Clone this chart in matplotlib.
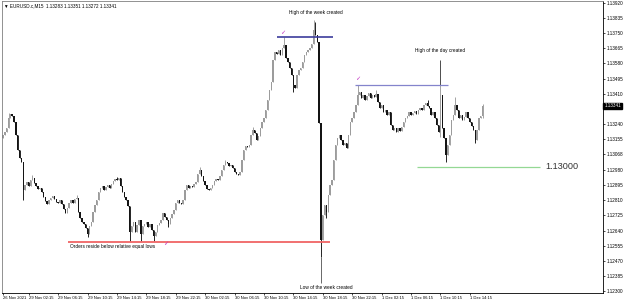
import matplotlib
matplotlib.use('Agg')
import matplotlib.pyplot as plt
import matplotlib.transforms as mtransforms
import numpy as np

plt.rcParams['font.family'] = ['Liberation Sans', 'DejaVu Sans']

# EURUSD.c M15 closes (bar by bar, left to right)
closes = [
    1.13177, 1.13194, 1.13217, 1.13273, 1.13296, 1.13284, 1.13251, 1.13177, 1.13093, 1.13048,
    1.13026, 1.12868, 1.12896, 1.12913, 1.12891, 1.12925, 1.12936, 1.12908, 1.12891, 1.12874,
    1.12879, 1.12857, 1.12829, 1.12806, 1.12789, 1.12812, 1.12823, 1.12834, 1.12818, 1.12801,
    1.12795, 1.12812, 1.12789, 1.12761, 1.12739, 1.12767, 1.12795, 1.12812, 1.12795, 1.12818,
    1.12823, 1.12744, 1.12711, 1.12688, 1.12677, 1.12654, 1.12621, 1.12666, 1.12688, 1.12744,
    1.12784, 1.12812, 1.12857, 1.12879, 1.12891, 1.12868, 1.12885, 1.12896, 1.12879, 1.12902,
    1.12919, 1.12930, 1.12925, 1.12936, 1.12891, 1.12857, 1.12829, 1.12812, 1.12778, 1.12632,
    1.12666, 1.12688, 1.12632, 1.12671, 1.12699, 1.12621, 1.12666, 1.12677, 1.12688, 1.12660,
    1.12677, 1.12643, 1.12609, 1.12632, 1.12671, 1.12682, 1.12699, 1.12739, 1.12716, 1.12699,
    1.12677, 1.12711, 1.12733, 1.12756, 1.12795, 1.12812, 1.12795, 1.12789, 1.12812, 1.12868,
    1.12896, 1.12879, 1.12891, 1.12885, 1.12902, 1.12913, 1.12958, 1.12981, 1.12947, 1.12919,
    1.12896, 1.12874, 1.12868, 1.12879, 1.12896, 1.12919, 1.12930, 1.12925, 1.12947, 1.12981,
    1.13009, 1.13026, 1.13020, 1.13003, 1.13009, 1.12992, 1.12970, 1.12958, 1.12953, 1.12970,
    1.13037, 1.13093, 1.13116, 1.13110, 1.13121, 1.13177, 1.13206, 1.13189, 1.13149, 1.13172,
    1.13217, 1.13251, 1.13273, 1.13318, 1.13374, 1.13431, 1.13476, 1.13599, 1.13644, 1.13633,
    1.13656, 1.13628, 1.13667, 1.13684, 1.13611, 1.13588, 1.13554, 1.13515, 1.13459, 1.13442,
    1.13515, 1.13543, 1.13554, 1.13588, 1.13628, 1.13644, 1.13656, 1.13667, 1.13689, 1.13768,
    1.13740, 1.13701, 1.13245, 1.12587, 1.12728, 1.12784, 1.12744, 1.12840, 1.12896, 1.12925,
    1.13037, 1.13121, 1.13161, 1.13177, 1.13149, 1.13121, 1.13132, 1.13104, 1.13177, 1.13251,
    1.13273, 1.13307, 1.13346, 1.13403, 1.13419, 1.13386, 1.13403, 1.13374, 1.13397, 1.13414,
    1.13386, 1.13403, 1.13391, 1.13408, 1.13363, 1.13329, 1.13346, 1.13307, 1.13318, 1.13290,
    1.13307, 1.13234, 1.13206, 1.13217, 1.13194, 1.13217, 1.13200, 1.13223, 1.13251, 1.13273,
    1.13284, 1.13307, 1.13290, 1.13301, 1.13313, 1.13296, 1.13318, 1.13329, 1.13318, 1.13346,
    1.13358, 1.13341, 1.13329, 1.13290, 1.13307, 1.13273, 1.13234, 1.13194, 1.13403, 1.13217,
    1.13161, 1.13065, 1.13121, 1.13177, 1.13262, 1.13290, 1.13346, 1.13318, 1.13273, 1.13290,
    1.13262, 1.13279, 1.13307, 1.13273, 1.13251, 1.13228, 1.13206, 1.13149, 1.13206, 1.13273,
    1.13283, 1.13341,
]
first_open = 1.13160

# bars whose wicks stick out past their bodies
wick_highs = {3: 1.13301, 16: 1.12953, 40: 1.12840, 62: 1.12941, 107: 1.12998,
              121: 1.13037, 136: 1.13223, 153: 1.13729, 169: 1.13824, 170: 1.13813,
              193: 1.13459, 203: 1.13431, 231: 1.13374, 238: 1.13459, 246: 1.13391,
              261: 1.13351}
wick_lows = {11: 1.12812, 46: 1.12604, 69: 1.12582, 75: 1.12582, 82: 1.12582,
             90: 1.12660, 158: 1.13419, 173: 1.12491, 176: 1.12711, 238: 1.13166,
             241: 1.13026, 257: 1.13132, 261: 1.13272}

last_price = 1.13341
equal_lows = 1.12577
week_high = 1.13730
day_high = 1.13459
level_113 = 1.13000

y_ticks = [1.13920, 1.13835, 1.13750, 1.13665, 1.13580, 1.13495, 1.13410, 1.13325,
           1.13240, 1.13155, 1.13068, 1.12980, 1.12895, 1.12810, 1.12725, 1.12640,
           1.12555, 1.12470, 1.12385, 1.12300]
x_tick_labels = ['26 Nov 2021', '29 Nov 02:15', '29 Nov 06:15', '29 Nov 10:15', '29 Nov 14:15',
                 '29 Nov 18:15', '29 Nov 22:15', '30 Nov 02:15', '30 Nov 06:15', '30 Nov 10:15',
                 '30 Nov 14:15', '30 Nov 18:15', '30 Nov 22:15', '1 Dec 02:15', '1 Dec 06:15',
                 '1 Dec 10:15', '1 Dec 14:15']
x_tick_bars = [0, 14, 30, 46, 62, 78, 94, 110, 126, 142, 158, 174, 190, 206, 222, 238, 254]

closes = np.array(closes)
opens = np.concatenate([[first_open], closes[:-1]])
highs = np.maximum(opens, closes)
lows = np.minimum(opens, closes)
for i, v in wick_highs.items():
    highs[i] = max(highs[i], v)
for i, v in wick_lows.items():
    lows[i] = min(lows[i], v)
idx = np.arange(len(closes))
up = closes >= opens
body_bottom = np.minimum(opens, closes)
body = np.maximum(np.abs(closes - opens), 0.00002)

bull = '#9c9c9c'
bear = '#141414'

fig = plt.figure(figsize=(6.25, 3.03), dpi=100)
ax = fig.add_axes([0.0032, 0.0330, 0.9616, 0.9637])

ax.vlines(idx[up], lows[up], highs[up], color=bull, lw=0.65)
ax.vlines(idx[~up], lows[~up], highs[~up], color=bear, lw=0.65)
ax.bar(idx[up], body[up], bottom=body_bottom[up], width=0.75, color=bull, linewidth=0)
ax.bar(idx[~up], body[~up], bottom=body_bottom[~up], width=0.75, color=bear, linewidth=0)

# drawn levels
ax.hlines(equal_lows, 35.4, 178, color='#f06464', lw=1.3, zorder=3)
ax.hlines(week_high, 149, 179.5, color='#3c3c9c', lw=1.2, zorder=3)
ax.hlines(day_high, 191.6, 242, color='#8484cc', lw=0.9, zorder=3)
ax.hlines(level_113, 225.3, 292.2, color='#94d894', lw=0.9, zorder=3)
ax.text(295, level_113, '1.13000', fontsize=6.6, color='#333333', va='center', ha='left')

# notes
ax.text(170, 1.13869, 'High of the week created', fontsize=3.4, ha='center', va='center')
ax.text(238, 1.13655, 'High of the day created', fontsize=3.4, ha='center', va='center')
ax.vlines(238, 1.13459, 1.13599, color='#303030', lw=0.6)
ax.text(176, 1.12322, 'Low of the week created', fontsize=3.4, ha='center', va='center')
ax.vlines(173, 1.12345, 1.12491, color='#505050', lw=0.6)
ax.text(36.5, 1.12553, 'Orders reside below relative equal lows', fontsize=3.4,
        ha='left', va='center')
for xi, yi in [(88.7, 1.12564), (152.4, 1.13751), (193.2, 1.13492)]:
    ax.text(xi, yi, '\u2713', fontsize=4.5, color='#c030c0', ha='center', va='center')

ax.text(0.004, 0.985, '\u25bc EURUSD.c,M15  1.13283 1.13351 1.13272 1.13341',
        transform=ax.transAxes, fontsize=3.3, va='center', ha='left')

ax.set_xlim(-0.54, 326.5)
ax.set_ylim(1.12289, 1.13931)

ax.yaxis.tick_right()
ax.set_yticks(y_ticks)
# the 1.13325 label sits under the current-price marker
ax.set_yticklabels(['' if v == 1.13325 else '%.5f' % v for v in y_ticks])
ax.set_xticks(x_tick_bars)
ax.set_xticklabels(x_tick_labels)
for lab in ax.get_xticklabels():
    lab.set_horizontalalignment('left')
ax.tick_params(axis='y', length=1.5, width=0.5, labelsize=3.3, pad=1)
ax.tick_params(axis='x', length=1.5, width=0.5, labelsize=3.0, pad=1)

# current price marker on the price scale
trans = mtransforms.blended_transform_factory(ax.transAxes, ax.transData)
ax.text(1.002, last_price, '1.13341', transform=trans, fontsize=3.3, color='white',
        va='center', ha='left', clip_on=False, zorder=10,
        bbox=dict(facecolor='black', edgecolor='black', pad=0.6))

for s in ax.spines.values():
    s.set_linewidth(0.6)
ax.spines['left'].set_color('#808080')
ax.spines['top'].set_color('#808080')

fig.savefig('out.png', dpi=100)
